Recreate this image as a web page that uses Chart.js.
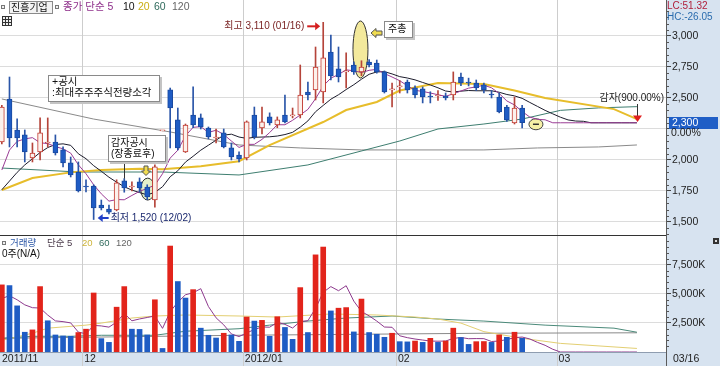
<!DOCTYPE html>
<html><head><meta charset="utf-8">
<script src="https://cdn.jsdelivr.net/npm/chart.js@4/dist/chart.umd.min.js"></script>
<style>
html,body{margin:0;padding:0;background:#fff;}
#wrap{position:relative;width:720px;height:366px;overflow:hidden;}
canvas{position:absolute;left:0;}
#pc{top:0;width:720px;height:235px;} #vc{top:235px;width:720px;height:131px;}
</style></head><body>
<div id="wrap"><canvas id="pc" width="720" height="235"></canvas><canvas id="vc" width="720" height="131"></canvas></div>
<script>
// ---------------- DATA ----------------
const dates = ['2011/11/16','2011/11/17','2011/11/18','2011/11/21','2011/11/22','2011/11/23','2011/11/24','2011/11/25','2011/11/28','2011/11/29','2011/11/30',
'2011/12/01','2011/12/02','2011/12/05','2011/12/06','2011/12/07','2011/12/08','2011/12/09','2011/12/12','2011/12/13','2011/12/14','2011/12/15','2011/12/16','2011/12/19','2011/12/20','2011/12/21','2011/12/22','2011/12/23','2011/12/26','2011/12/27','2011/12/28','2011/12/29',
'2012/01/02','2012/01/03','2012/01/04','2012/01/05','2012/01/06','2012/01/09','2012/01/10','2012/01/11','2012/01/12','2012/01/13','2012/01/16','2012/01/17','2012/01/18','2012/01/19','2012/01/20','2012/01/25','2012/01/26','2012/01/27','2012/01/30','2012/01/31',
'2012/02/01','2012/02/02','2012/02/03','2012/02/06','2012/02/07','2012/02/08','2012/02/09','2012/02/10','2012/02/13','2012/02/14','2012/02/15','2012/02/16','2012/02/17','2012/02/20','2012/02/21','2012/02/22','2012/02/23','2012/02/24','2012/02/27','2012/02/28','2012/02/29',
'2012/03/02','2012/03/05','2012/03/06','2012/03/07','2012/03/08','2012/03/09','2012/03/12','2012/03/13','2012/03/14','2012/03/15','2012/03/16','2012/03/19','2012/03/20','2012/03/21'];

const open = [2145,2492,2242,2202,2016,2065,2137,2145,2081,1976,
 1903,1790,1790,1637,1605,1597,1831,1782,1823,1782,
 1677,2235,2565,2323,2065,2363,2339,2258,2177,2218,
 2097,2040,2016,2363,2258,2347,2282,2363,2355,2363,
 2548,2565,2548,2871,2734,2710,2766,2710,2790,2782,
 2710,2565,2589,2629,2581,2573,2516,2516,2516,2524,
 2669,2629,2621,2605,2532,2508,2427,2298,2419];
const high = [2440,2669,2331,2242,2137,2339,2339,2202,2105,2024,
 1984,1839,1800,1677,1637,1840,1850,1823,1855,1800,
 1960,2235,2580,2419,2290,2589,2371,2266,2250,2250,
 2137,2065,2315,2427,2427,2380,2347,2524,2419,2766,
 2629,2911,3110,3008,2911,2863,2790,2800,2810,2806,
 2718,2621,2640,2645,2597,2589,2550,2560,2540,2710,
 2700,2660,2645,2621,2560,2540,2440,2508,2440];
const low = [2130,2105,2105,1984,1984,2000,2105,2040,1944,1863,
 1742,1742,1520,1597,1565,1590,1740,1750,1742,1680,
 1620,2235,2097,2081,2060,2260,2250,2170,2137,2097,
 2000,1984,2000,2170,2210,2282,2260,2298,2339,2339,
 2484,2484,2460,2645,2629,2581,2690,2680,2750,2700,
 2540,2427,2540,2540,2500,2460,2460,2480,2484,2484,
 2600,2597,2560,2540,2500,2380,2310,2290,2258];
const close = [2427,2177,2177,2065,2056,2218,2145,2056,1976,1879,
 1750,1782,1613,1613,1580,1815,1774,1790,1774,1702,
 1944,2235,2419,2097,2282,2282,2266,2185,2185,2105,
 2024,2008,2307,2185,2307,2298,2323,2307,2363,2524,
 2524,2750,2823,2677,2669,2718,2710,2750,2766,2710,
 2548,2573,2597,2565,2524,2508,2508,2524,2500,2629,
 2621,2621,2581,2565,2524,2387,2323,2419,2300];
// volume in thousands of shares
const volume = [5766,5705,3963,1698,1899,5618,2683,1463,1376,1350,
 1672,1960,5069,1150,827,3850,5618,1960,1940,1463,
 4486,305,9102,6053,4634,5357,2047,1437,1202,1611,
 1463,915,3005,2657,2718,1350,3031,2108,1089,5531,
 1672,8344,9015,3528,3763,3815,1725,4547,1672,1524,
 1263,1611,888,870,941,827,1176,827,941,2047,
 1237,653,888,900,827,1463,1263,1698,1176];

// price moving averages (5 / 10 daily, 20 / 60 / 120 read at points: [day index, value])
const ma5 = [1919,2080,2150,2170,2180,2139,2132,2108,2090,2055,
 1961,1889,1800,1727,1668,1681,1679,1714,1747,1771,
 1797,1889,2015,2079,2195,2263,2269,2222,2240,2205,
 2153,2101,2126,2126,2166,2221,2284,2284,2320,2363,
 2408,2494,2597,2660,2689,2727,2719,2705,2723,2731,
 2697,2669,2639,2599,2561,2553,2540,2526,2513,2534,
 2556,2579,2590,2603,2582,2536,2476,2444,2391,2346,
 2328,2324,2300,2300,2300,2300,2300,2300,2300,2300,2300,2300,2300,2300];
const ma10 = [1760,1830,1900,1960,2010,2060,2100,2125,2130,2118,
 2050,2010,1954,1909,1861,1821,1784,1757,1737,1719,
 1739,1784,1865,1913,1983,2030,2079,2119,2160,2200,
 2208,2185,2174,2183,2185,2187,2193,2205,2223,2265,
 2315,2389,2440,2490,2526,2568,2607,2651,2691,2710,
 2712,2694,2672,2661,2646,2625,2605,2582,2556,2548,
 2555,2560,2558,2558,2558,2546,2528,2517,2497,2464,
 2432,2400,2372,2345,2323,2314,2312,2300,2300,2300,2300,2300,2300,2300];
const ma20 = [[0,1758],[4,1855],[9,1900],[13,1920],[18,1930],[21,1925],[26,1950],[31,1990],[35,2120],[42,2306],[45,2403],[49,2468],[52,2560],[57,2621],[63,2612],[67,2560],[71,2500],[80,2410],[83,2330]];
const ma60 = [[0,1935],[10,1903],[21,1903],[31,1879],[40,1960],[52,2153],[57,2250],[63,2290],[68,2330],[73,2400],[78,2420],[83,2430]];
const ma120 = [[0,2492],[12,2330],[22,2226],[31,2121],[39,2097],[47,2081],[63,2081],[70,2097],[78,2105],[83,2121]];

// volume moving averages
const vma5 = [4600,4834,4486,4050,3806,3777,3172,2672,2608,2498,
 1709,1564,2285,2240,2136,2571,3303,2681,2839,2966,
 3093,2031,3459,4282,4916,5090,5439,3906,2935,2331,
 1552,1326,1639,1930,2152,2129,2552,2373,2059,2622,
 2686,3749,5130,5618,5264,5693,4369,3476,3104,2657,
 2146,2123,1392,1231,1115,1027,940,928,942,1164,
 1246,1141,1153,1145,901,946,1068,1230,1285,1120,
 827,575,235,0,0,0,0,0,0,0,0,0,0,0];
const vma20 = [[0,1002],[4,1611],[6,2047],[11,2308],[13,2482],[17,2918],[20,3092],[24,3179],[31,3092],[36,3005],[43,3266],[49,3179],[54,3005],[57,2831],[60,2482],[63,1750],[68,1176],[73,740],[83,305]];
const vma60 = [[0,1176],[4,1350],[9,1350],[13,1437],[20,1437],[24,1785],[31,2000],[35,2308],[40,2657],[45,2918],[51,3092],[57,2831],[63,2657],[71,2308],[80,2047],[83,1698]];
const vma120 = [[0,1176],[31,1437],[63,1611],[83,1650]];

const priceTicks = [1500,1750,2000,2250,2500,2750,3000];
const volTicks = [2500,5000,7500];
const lastPrice = 2300;

// ---------------- RENDERING ----------------
const FONT = '"Liberation Sans", "Noto Sans CJK KR", "DejaVu Sans", sans-serif';
Chart.defaults.font.family = FONT;
Chart.defaults.font.size = 10.5;
Chart.defaults.animation = false;

const X_MIN = -0.24, X_MAX = 86.8, AXIS_W = 54, AXIS_BG = '#d7e3f0';
const idx = close.map((_, i) => i);
const isUp = i => close[i] >= open[i];
const seq = a => a.map((v, i) => ({x: i, y: v}));
const pairs = a => a.map(p => ({x: p[0], y: p[1]}));
const fmt = v => v.toLocaleString('en-US');
const noPad = s => { s.paddingTop = 0; s.paddingBottom = 0; s.paddingLeft = 0; s.paddingRight = 0; };

function monthStarts() {
  const out = [];
  for (let i = 1; i < dates.length; i++) if (dates[i].slice(0, 7) !== dates[i - 1].slice(0, 7)) out.push(i);
  return out;
}
const monthLabels = [dates[0].slice(0, 7)].concat(monthStarts().map(i =>
  dates[i].slice(0, 4) !== dates[i - 1].slice(0, 4) ? dates[i].slice(0, 7) : dates[i].slice(5, 7)));

function txt(ctx, s, x, y, color, size, align) {
  ctx.font = size + 'px ' + FONT; ctx.fillStyle = color;
  ctx.textAlign = align || 'left'; ctx.textBaseline = 'middle'; ctx.fillText(s, x, y);
}
function ellipse(ctx, cx, cy, rx, ry, fill, stroke) {
  ctx.save(); ctx.beginPath(); ctx.ellipse(cx, cy, rx, ry, 0, 0, Math.PI * 2);
  if (fill) { ctx.fillStyle = fill; ctx.fill(); }
  if (stroke) { ctx.strokeStyle = stroke; ctx.lineWidth = 1; ctx.stroke(); }
  ctx.restore();
}
function poly(ctx, pts, fill, stroke) {
  ctx.save(); ctx.beginPath(); pts.forEach((p, k) => k ? ctx.lineTo(p[0], p[1]) : ctx.moveTo(p[0], p[1]));
  ctx.closePath(); ctx.fillStyle = fill; ctx.fill(); if (stroke) { ctx.strokeStyle = stroke; ctx.lineWidth = 1; ctx.stroke(); }
  ctx.restore();
}
function arrowH(ctx, x1, x2, y, color) {
  const d = Math.sign(x2 - x1);
  ctx.save(); ctx.strokeStyle = color; ctx.lineWidth = 2;
  ctx.beginPath(); ctx.moveTo(x1, y); ctx.lineTo(x2 - d * 4, y); ctx.stroke();
  ctx.restore();
  poly(ctx, [[x2, y], [x2 - d * 5, y - 4], [x2 - d * 5, y + 4]], color);
}
function noteBox(ctx, x, y, w, h, lines, tx, ys, size) {
  ctx.save();
  ctx.fillStyle = '#c4c4c4'; ctx.fillRect(x + 2, y + 2, w, h);
  ctx.fillStyle = '#fff'; ctx.fillRect(x, y, w, h);
  ctx.strokeStyle = '#8a8a8a'; ctx.lineWidth = 1; ctx.strokeRect(x + 0.5, y + 0.5, w - 1, h - 1);
  lines.forEach((s, k) => txt(ctx, s, tx, ys[k], '#111', size));
  ctx.restore();
}
function sq(ctx, x, y) {
  ctx.fillStyle = '#f0f0f0'; ctx.fillRect(x, y, 4, 4);
  ctx.strokeStyle = '#777'; ctx.lineWidth = 1; ctx.strokeRect(x + 0.5, y + 0.5, 3, 3);
}

const frame = {
  id: 'frame',
  beforeDraw(chart) {
    const {ctx, chartArea: a, width, height} = chart;
    ctx.save();
    ctx.fillStyle = '#fff'; ctx.fillRect(0, 0, width, height);
    ctx.fillStyle = AXIS_BG; ctx.fillRect(a.right, 0, width - a.right, height);
    if (height - a.bottom > 1) ctx.fillRect(0, a.bottom, width, height - a.bottom);
    ctx.restore();
  },
  beforeDatasetsDraw(chart) {
    const {ctx, scales: {x}} = chart;
    ctx.save(); ctx.strokeStyle = '#cdcdcd'; ctx.lineWidth = 1;
    monthStarts().forEach(i => {
      const p = Math.round(x.getPixelForValue(i - 0.5)) + 0.5;
      ctx.beginPath(); ctx.moveTo(p, 0); ctx.lineTo(p, chart.height); ctx.stroke();
    });
    ctx.restore();
  },
  afterDraw(chart) {
    const {ctx, chartArea: a, scales: {y}} = chart;
    const step = chart.canvas.id === 'pc' ? 50 : 500, major = chart.canvas.id === 'pc' ? 250 : 2500;
    ctx.save(); ctx.strokeStyle = '#555'; ctx.lineWidth = 1;
    for (let v = Math.ceil(y.min / step) * step; v <= y.max; v += step) {
      if (v % major === 0) continue;
      const p = Math.round(y.getPixelForValue(v)) + 0.5;
      ctx.beginPath(); ctx.moveTo(a.right, p); ctx.lineTo(a.right + 3, p); ctx.stroke();
    }
    ctx.strokeStyle = '#5a5a5a';
    ctx.beginPath(); ctx.moveTo(a.right + 0.5, 0); ctx.lineTo(a.right + 0.5, chart.height); ctx.stroke();
    ctx.restore();
  }
};

const priceNotes = {
  id: 'priceNotes',
  beforeDatasetsDraw(chart) {
    const {ctx} = chart; const X = v => chart.scales.x.getPixelForValue(v), Y = v => chart.scales.y.getPixelForValue(v);
    ellipse(ctx, X(47) - 1, 49.5, 7.5, 28.5, '#f3e99c', '#333');
    ellipse(ctx, X(19) + 0.5, Y(1765), 7, 11, 'rgba(205,228,160,0.55)', '#333');
    ellipse(ctx, X(70) - 1.5, Y(lastPrice) + 1.5, 7, 5.5, '#f5f0a6', '#444');
    ctx.save(); ctx.strokeStyle = '#333'; ctx.lineWidth = 1.5;
    ctx.beginPath(); ctx.moveTo(X(70) - 4.5, Y(lastPrice) + 1.5); ctx.lineTo(X(70) + 1.5, Y(lastPrice) + 1.5); ctx.stroke();
    ctx.restore();
  },
  afterDatasetsDraw(chart) {
    const {ctx} = chart; const X = v => chart.scales.x.getPixelForValue(v), Y = v => chart.scales.y.getPixelForValue(v);
    // highest
    const hx = X(42), hy = Y(high[42]) + 4;
    txt(ctx, '최고 ' + fmt(high[42]) + ' (' + dates[42].slice(5) + ')', hx - 19, hy, '#7a2424', 10, 'right');
    arrowH(ctx, hx - 16, hx - 3, hy, '#d41f1f');
    // lowest
    const lx = X(12) + 4, ly = Y(low[12]) - 1.5;
    arrowH(ctx, lx + 11, lx, ly, '#2340c8');
    txt(ctx, '최저 ' + fmt(low[12]) + ' (' + dates[12].slice(5) + ')', lx + 13, ly, '#1c2a70', 10);
    // notes
    noteBox(ctx, 48, 75, 112, 27, ['+공시', ':최대주주주식전량소각'], 52, [82.5, 93], 10.5);
    ctx.save(); ctx.strokeStyle = '#333'; ctx.lineWidth = 1;
    ctx.beginPath(); ctx.moveTo(Math.round(X(16)) + 0.5, 162); ctx.lineTo(Math.round(X(16)) + 0.5, Y(high[16])); ctx.stroke(); ctx.restore();
    noteBox(ctx, 108, 135, 58, 27, ['감자공시', '(장종료후)'], 111, [143, 154], 10);
    noteBox(ctx, 384, 21, 29, 17, ['주총'], 388, [29.5], 10);
    poly(ctx, [[371, 33], [376, 28.5], [376, 31], [382, 31], [382, 35], [376, 35], [376, 37.5]], '#f0dc50', '#555');
    poly(ctx, [[146, 175.5], [141.5, 171], [144, 171], [144, 166], [148, 166], [148, 171], [150.5, 171]], '#f0dc50', '#555');
    // capital reduction marker
    const cx = Math.round(X(83)) + 0.5;
    txt(ctx, '감자(900.00%)', 664, 98.5, '#222', 10, 'right');
    ctx.save(); ctx.strokeStyle = '#333'; ctx.lineWidth = 1;
    ctx.beginPath(); ctx.moveTo(cx, 104); ctx.lineTo(cx, 116); ctx.stroke(); ctx.restore();
    poly(ctx, [[cx - 4.5, 115.5], [cx + 4.5, 115.5], [cx, 122]], '#e01f1f');
  },
  afterDraw(chart) {
    const {ctx} = chart; const Y = v => chart.scales.y.getPixelForValue(v);
    // header
    sq(ctx, 1, 5);
    ctx.fillStyle = '#f3f3f3'; ctx.fillRect(9, 1, 44, 13);
    ctx.strokeStyle = '#8a8a8a'; ctx.lineWidth = 1; ctx.strokeRect(9.5, 1.5, 43, 12);
    txt(ctx, '진흥기업', 11, 8, '#111', 10);
    sq(ctx, 55, 5);
    txt(ctx, '종가 단순 5', 63, 7.5, '#8e2f8a', 10.5);
    txt(ctx, '10', 123, 7.5, '#111', 10.5);
    txt(ctx, '20', 138, 7.5, '#c9ad14', 10.5);
    txt(ctx, '60', 154, 7.5, '#2f6a5c', 10.5);
    txt(ctx, '120', 172, 7.5, '#666', 10.5);
    ctx.fillStyle = '#eee'; ctx.fillRect(2, 16, 10, 10);
    ctx.strokeStyle = '#333'; ctx.strokeRect(2.5, 16.5, 9, 9);
    ctx.beginPath(); ctx.moveTo(3, 19.5); ctx.lineTo(11, 19.5); ctx.moveTo(3, 22.5); ctx.lineTo(11, 22.5);
    ctx.moveTo(5.5, 17); ctx.lineTo(5.5, 25); ctx.moveTo(8.5, 17); ctx.lineTo(8.5, 25); ctx.stroke();
    // right side texts
    txt(ctx, 'LC:51.32', 667, 6.5, '#b0203c', 10);
    txt(ctx, 'HC:-26.05', 667, 17, '#2a6cae', 10);
    const ly = Y(lastPrice);
    ctx.fillStyle = '#1f5ec6'; ctx.fillRect(669, Math.round(ly) - 6, 49, 12);
    txt(ctx, fmt(lastPrice), 672, Math.round(ly), '#fff', 10.5);
    txt(ctx, '0.00%', 671, Math.round(ly) + 10.5, '#222', 10.5);
  }
};

const volNotes = {
  id: 'volNotes',
  afterDraw(chart) {
    const {ctx, chartArea: a} = chart;
    ctx.save();
    ctx.strokeStyle = '#333'; ctx.lineWidth = 1;
    ctx.beginPath(); ctx.moveTo(0, 0.5); ctx.lineTo(a.right, 0.5); ctx.stroke();
    ctx.restore();
    sq(ctx, 2, 6);
    txt(ctx, '거래량', 10, 8.5, '#2a56a6', 9.5);
    txt(ctx, '단순 5', 47, 8.5, '#4a3a4a', 9.5);
    txt(ctx, '20', 82, 8.5, '#cdb43a', 9.5);
    txt(ctx, '60', 99, 8.5, '#2f6a5c', 9.5);
    txt(ctx, '120', 116, 8.5, '#666', 9.5);
    txt(ctx, '0주(N/A)', 2, 19.5, '#111', 10);
    ctx.fillStyle = '#333'; ctx.fillRect(713, 3, 6, 6); ctx.fillStyle = '#ddd'; ctx.fillRect(715, 5, 2, 2);
    txt(ctx, dates[83].slice(5, 7) + '/' + dates[83].slice(8), 673, 124.5, '#222', 10.5);
  }
};

const priceChart = new Chart(document.getElementById('pc'), {
  type: 'bar',
  data: {
    datasets: [
      {type: 'bar', data: idx.map(i => ({x: i, y: [Math.min(open[i], close[i]), Math.max(open[i], close[i])]})),
        backgroundColor: c => isUp(c.dataIndex) ? '#fcf1ec' : '#1f5cc4',
        borderColor: c => isUp(c.dataIndex) ? '#c23a30' : '#1a4aa0',
        borderWidth: 1, borderSkipped: false, barThickness: 5, minBarLength: 1, grouped: false, order: 0},
      {type: 'bar', data: idx.map(i => ({x: i, y: [low[i], high[i]]})),
        backgroundColor: c => isUp(c.dataIndex) ? '#b5443a' : '#2a55a8',
        borderWidth: 0, barThickness: 1, grouped: false, order: 1},
      {type: 'line', data: seq(ma5), borderColor: '#9a3c95', borderWidth: 1, pointRadius: 0, order: 2},
      {type: 'line', data: seq(ma10), borderColor: '#1d1d2d', borderWidth: 1, pointRadius: 0, order: 3},
      {type: 'line', data: pairs(ma20), borderColor: '#e7bd2b', borderWidth: 2, pointRadius: 0, order: 4},
      {type: 'line', data: pairs(ma60), borderColor: '#3e7e70', borderWidth: 1, pointRadius: 0, order: 5},
      {type: 'line', data: pairs(ma120), borderColor: '#8a8a8a', borderWidth: 1, pointRadius: 0, order: 6}
    ]
  },
  options: {
    responsive: false, devicePixelRatio: 1, events: [],
    layout: {padding: 0},
    plugins: {legend: {display: false}, tooltip: {enabled: false}},
    scales: {
      x: {type: 'linear', min: X_MIN, max: X_MAX, offset: false, display: false, grid: {display: false, offset: false}},
      y: {type: 'linear', position: 'right', min: 1395, max: 3290,
        afterBuildTicks: s => { s.ticks = priceTicks.map(v => ({value: v})); },
        afterFit: s => { s.width = AXIS_W; noPad(s); },
        ticks: {callback: v => v === 2250 ? '' : fmt(v), color: '#222', padding: 1, font: {size: 10.5}},
        grid: {color: '#dcdcdc', tickColor: '#444', tickLength: 5},
        border: {display: true, color: '#5a5a5a'}}
    }
  },
  plugins: [frame, priceNotes]
});

const volChart = new Chart(document.getElementById('vc'), {
  type: 'bar',
  data: {
    datasets: [
      {type: 'bar', data: idx.map(i => ({x: i, y: volume[i]})),
        backgroundColor: c => (c.dataIndex === 0 || volume[c.dataIndex] > volume[c.dataIndex - 1]) ? '#e2241b' : '#1f5cc4',
        borderWidth: 0, barThickness: 5, order: 0},
      {type: 'line', data: seq(vma5), borderColor: '#8e3a8e', borderWidth: 1, pointRadius: 0, order: 1},
      {type: 'line', data: pairs(vma20), borderColor: '#e3cf72', borderWidth: 1, pointRadius: 0, order: 2},
      {type: 'line', data: pairs(vma60), borderColor: '#4b8a7a', borderWidth: 1, pointRadius: 0, order: 3},
      {type: 'line', data: pairs(vma120), borderColor: '#8a8a8a', borderWidth: 1, pointRadius: 0, order: 4}
    ]
  },
  options: {
    responsive: false, devicePixelRatio: 1, events: [],
    layout: {padding: 0},
    plugins: {legend: {display: false}, tooltip: {enabled: false}},
    scales: {
      x: {type: 'linear', position: 'bottom', min: X_MIN, max: X_MAX, offset: false,
        afterBuildTicks: s => { s.ticks = [{value: X_MIN}].concat(monthStarts().map(i => ({value: i - 0.5}))); },
        afterFit: s => { s.height = 14; noPad(s); },
        ticks: {callback: (v, k) => monthLabels[k], align: 'start', labelOffset: 2, autoSkip: false, maxRotation: 0, padding: 1, color: '#222', font: {size: 10.5}},
        grid: {display: false, drawTicks: false, offset: false},
        border: {display: true, color: '#8f9db0'}},
      y: {type: 'linear', position: 'right', min: 0, max: 10050,
        afterBuildTicks: s => { s.ticks = volTicks.map(v => ({value: v})); },
        afterFit: s => { s.width = AXIS_W; noPad(s); },
        ticks: {callback: v => fmt(v) + 'K', color: '#222', padding: 1, font: {size: 10.5}},
        grid: {color: '#dcdcdc', tickColor: '#444', tickLength: 5},
        border: {display: true, color: '#5a5a5a'}}
    }
  },
  plugins: [frame, volNotes]
});
</script></body></html>
